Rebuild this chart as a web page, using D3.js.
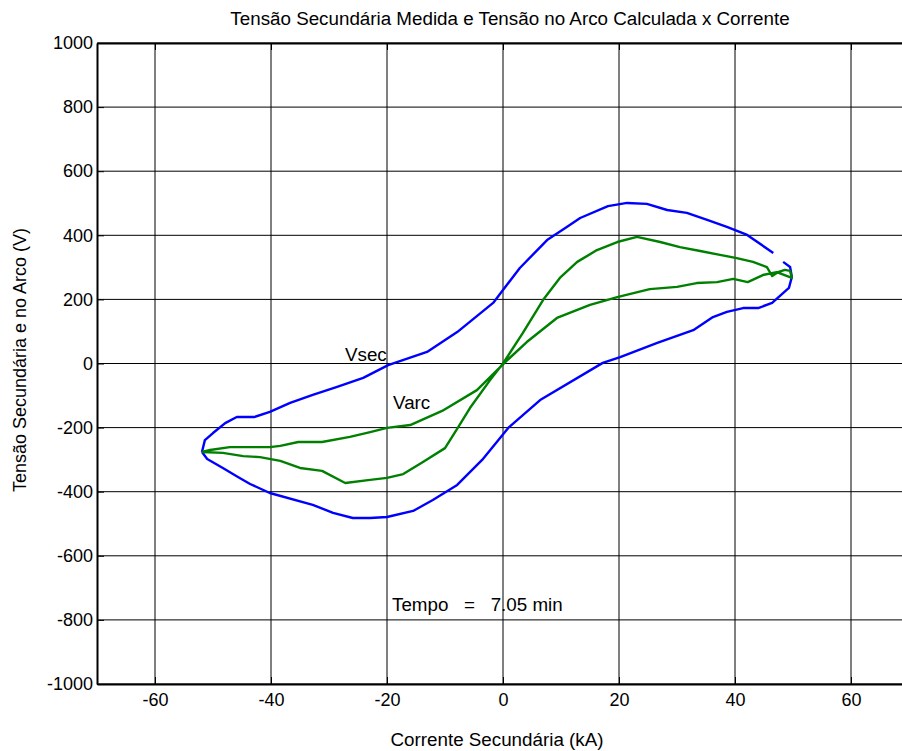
<!DOCTYPE html>
<html>
<head>
<meta charset="utf-8">
<script src="https://cdn.jsdelivr.net/npm/d3@7"></script>
<style>
  html, body { margin: 0; padding: 0; background: #fff; }
  svg { display: block; font-family: "Liberation Sans", Arial, Helvetica, sans-serif; }
  text { white-space: pre; }
</style>
</head>
<body>
<svg id="chart" width="902" height="751"></svg>
<script>
// Axis ticks
const xTicks = [-60, -40, -20, 0, 20, 40, 60];
const yTicks = [-1000, -800, -600, -400, -200, 0, 200, 400, 600, 800, 1000];

// Measured secondary voltage loop (Vsec): current in kA, voltage in V; null marks a gap
const vsecI = [-51.9, -51.4, -50.0, -47.9, -45.9, -42.9, -40.2, -36.7, -32.8, -28.6, -24.1, -19.8, -13.1, -7.9, -1.7,
  2.9, 7.6, 11.0, 13.3, 18.1, 21.4, 24.8, 28.3, 31.7, 35.2, 38.6, 42.1, 46.6, null,
  48.3, 49.5, 49.8, 49.3, 46.4, 44.0, 41.4, 38.6, 36.2, 32.8, 26.6, 20.2, 17.2, 6.4, 0.9, -3.6, -7.9,
  -12.1, -15.5, -20.0, -22.9, -25.9, -29.3, -32.8, -40.2, -43.6, -45.7, -48.3, -51.0, -51.9];
const vsecV = [-276, -239, -217, -186, -167, -167, -151, -123, -98, -73, -45, -5, 36, 98, 189,
  298, 385, 426, 454, 491, 501, 498, 479, 470, 448, 426, 401, 345, null,
  317, 301, 270, 236, 189, 173, 173, 161, 145, 104, 64, 20, 2, -114, -201, -301, -379,
  -426, -460, -479, -482, -482, -466, -441, -404, -376, -354, -326, -298, -276];

// Calculated arc voltage loop (Varc)
const varcI = [-51.9, -50.5, -47.1, -40.2, -38.4, -35.3, -31.2, -26.4, -22.9, -20.0, -16.0, -10.5, -4.5, 0.3,
  4.1, 9.3, 15.0, 19.7, 25.3, 30.0, 33.4, 36.9, 39.7, 42.2, 44.8, 47.2, 49.8,
  49.5, 48.6, 47.4, 46.4,
  45.5, 43.1, 40.3, 37.4, 34.0, 30.5, 27.1, 23.1, 19.7, 16.2, 12.8, 9.8, 6.9, 3.4, 0.0,
  -2.2, -5.7, -7.8, -10.0, -13.8, -17.2, -20.0, -22.9, -27.2, -31.2, -35.0, -38.4, -41.9, -44.8, -48.3, -51.9];
const varcV = [-276, -270, -261, -261, -257, -245, -245, -229, -214, -201, -192, -148, -83, 3,
  67, 142, 183, 207, 232, 239, 251, 254, 264, 254, 276, 285, 267,
  289, 292, 285, 273,
  301, 317, 329, 339, 351, 363, 379, 395, 379, 354, 317, 267, 198, 95, 0,
  -51, -139, -201, -264, -307, -345, -357, -363, -373, -335, -326, -304, -292, -289, -279, -276];

const svg = d3.select("#chart");
const fontSize = 18;
const titleSize = 18.8;

const x = d3.scaleLinear().domain([-70, 70]).range([97, 909]);
const y = d3.scaleLinear().domain([-1000, 1000]).range([684, 43]);

svg.append("rect").attr("width", 902).attr("height", 751).attr("fill", "#fff");

// Grid
const grid = svg.append("g").attr("stroke", "#000").attr("stroke-width", 1);
grid.selectAll("line.vx").data(xTicks).join("line")
  .attr("x1", d => x(d)).attr("x2", d => x(d))
  .attr("y1", y(-1000)).attr("y2", y(1000));
grid.selectAll("line.hy").data(yTicks).join("line")
  .attr("x1", x(-70)).attr("x2", x(70))
  .attr("y1", d => y(d)).attr("y2", d => y(d));

// Axes with inward ticks; plain hyphen for negative numbers
const plainNum = d => String(d);
function styleAxis(g) {
  g.selectAll("path.domain").attr("stroke", "#000").attr("stroke-width", 2);
  g.selectAll(".tick line").attr("stroke", "#000").attr("stroke-width", 1);
  g.selectAll(".tick text").attr("fill", "#000")
    .style("font-size", fontSize + "px")
    .style("font-family", '"Liberation Sans", Arial, sans-serif');
}
svg.append("g").attr("transform", `translate(0,${y(-1000)})`)
  .call(d3.axisBottom(x).tickValues(xTicks).tickSize(-7).tickSizeOuter(0).tickPadding(9).tickFormat(plainNum))
  .call(styleAxis);
svg.append("g").attr("transform", `translate(0,${y(1000)})`)
  .call(d3.axisTop(x).tickValues(xTicks).tickSize(-7).tickSizeOuter(0).tickFormat(""))
  .call(styleAxis);
svg.append("g").attr("transform", `translate(${x(-70)},0)`)
  .call(d3.axisLeft(y).tickValues(yTicks).tickSize(-7).tickSizeOuter(0).tickPadding(4).tickFormat(plainNum))
  .call(styleAxis);

// Curves
const line = d3.line()
  .defined(d => d[0] !== null && d[1] !== null)
  .x(d => x(d[0])).y(d => y(d[1]));

const plot = svg.append("g");
plot.append("path")
  .datum(vsecI.map((v, i) => [v, vsecV[i]]))
  .attr("fill", "none").attr("stroke", "#0000ff").attr("stroke-width", 2.4)
  .attr("stroke-linejoin", "round").attr("d", line);
plot.append("path")
  .datum(varcI.map((v, i) => [v, varcV[i]]))
  .attr("fill", "none").attr("stroke", "#008000").attr("stroke-width", 2.4)
  .attr("stroke-linejoin", "round").attr("d", line);

// Labels
const txt = (s, px, py, size, anchor) => svg.append("text")
  .attr("x", px).attr("y", py)
  .attr("text-anchor", anchor || "start")
  .style("font-size", (size || fontSize) + "px")
  .attr("fill", "#000")
  .text(s);

txt("Tensão Secundária Medida e Tensão no Arco Calculada x Corrente", 510, 25, titleSize, "middle");
txt("Corrente Secundária (kA)", 497, 746, titleSize, "middle");
svg.append("text")
  .attr("transform", "translate(26,360) rotate(-90)")
  .attr("text-anchor", "middle")
  .style("font-size", fontSize + "px")
  .attr("fill", "#000")
  .text("Tensão Secundária e no Arco (V)");

txt("Vsec", 345, 361, titleSize);
txt("Varc", 393, 409, titleSize);
txt("Tempo   =   7.05 min", 392, 611, titleSize);
</script>
</body>
</html>
